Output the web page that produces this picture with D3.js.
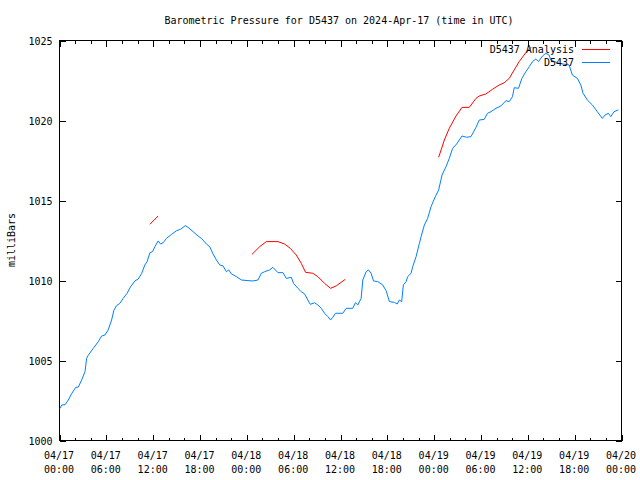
<!DOCTYPE html>
<html>
<head>
<meta charset="utf-8">
<script src="https://cdn.jsdelivr.net/npm/d3@7"></script>
<style>
  html, body { margin: 0; padding: 0; background: #fff; }
  svg text { font-family: "DejaVu Sans Mono", "Liberation Mono", monospace; font-size: 10px; fill: #000; }
</style>
</head>
<body>
<svg id="chart" width="640" height="480"></svg>
<script>
// ---- data (hours since 2024-04-17 00:00 UTC) ----
const stationHours = [0.13,0.35,0.77,1.19,1.62,2.17,2.47,2.90,3.33,3.54,3.75,4.39,5.03,5.46,5.88,6.30,6.74,7.03,7.38,7.80,8.22,8.73,9.17,9.72,10.14,10.58,11.00,11.29,11.64,11.98,12.28,12.70,13.01,13.34,13.77,14.41,15.05,15.56,16.20,16.54,17.18,17.82,18.25,18.89,19.31,19.73,20.17,20.59,21.01,21.45,21.74,22.09,22.73,23.37,24.21,24.85,25.49,25.92,26.35,26.98,27.41,28.05,28.69,29.12,29.76,30.05,30.60,31.04,31.46,31.88,32.19,32.74,33.16,33.60,34.02,34.44,34.79,35.08,35.42,36.36,36.79,37.64,37.98,38.28,38.71,38.92,39.35,39.65,39.99,40.29,40.84,41.47,41.91,42.33,42.97,43.32,43.61,43.90,44.12,44.47,44.67,45.11,45.31,45.75,46.17,46.39,46.81,47.23,47.66,48.21,48.64,49.07,49.58,50.00,50.43,50.94,51.63,52.22,52.78,53.42,53.84,54.48,54.90,55.34,55.98,56.62,57.26,57.68,58.10,58.32,58.87,59.30,59.81,60.24,60.66,61.09,61.43,61.94,62.37,62.79,63.01,64.07,65.35,65.77,66.41,66.85,67.14,67.69,68.33,68.97,69.61,69.95,70.38,70.69,71.11,71.66];
const stationValues = [1001.98,1002.19,1002.2,1002.5,1002.9,1003.3,1003.3,1003.75,1004.27,1005.1,1005.3,1005.73,1006.14,1006.5,1006.56,1006.88,1007.5,1008.1,1008.4,1008.54,1008.85,1009.17,1009.58,1009.94,1010.06,1010.4,1010.94,1011.15,1011.7,1011.77,1012.08,1012.44,1012.25,1012.33,1012.6,1012.85,1013.08,1013.17,1013.4,1013.29,1013.02,1012.75,1012.6,1012.25,1012.08,1011.63,1011.25,1010.94,1010.88,1010.52,1010.63,1010.38,1010.21,1010.0,1009.96,1009.94,1010.0,1010.42,1010.52,1010.63,1010.79,1010.46,1010.46,1010.1,1010.17,1009.79,1009.48,1009.27,1009.13,1008.75,1008.48,1008.58,1008.44,1008.23,1007.92,1007.71,1007.5,1007.67,1007.92,1007.92,1008.23,1008.23,1008.58,1008.44,1008.85,1010.0,1010.52,1010.63,1010.42,1009.94,1009.9,1009.69,1009.33,1008.65,1008.6,1008.5,1008.75,1008.65,1009.69,1009.9,1010.21,1010.42,1010.83,1011.46,1012.29,1012.71,1013.44,1013.85,1014.58,1015.21,1015.63,1016.56,1017.08,1017.6,1018.23,1018.5,1019.0,1018.92,1018.96,1019.54,1020.0,1020.04,1020.42,1020.52,1020.73,1020.88,1021.21,1021.15,1021.46,1022.02,1021.98,1022.6,1023.02,1023.33,1023.65,1023.81,1023.65,1024.0,1024.17,1024.06,1023.75,1023.54,1023.44,1022.81,1022.6,1022.19,1021.67,1021.25,1020.94,1020.52,1020.1,1020.31,1020.42,1020.21,1020.52,1020.63];
// analysis series, null marks a gap between runs
const analysisHours = [11.64,12.70, null, 24.72,25.71,26.56,28.05,28.90,29.63,30.40,31.04,31.59,32.52,33.16,34.02,34.79,35.51,36.67, null, 48.64,49.37,50.00,50.86,51.63,52.56,53.42,53.84,54.70,55.54,56.40,57.04,57.68,58.32,58.96,59.81,60.50];
const analysisValues = [1013.48,1014.0, null, 1011.6,1012.08,1012.4,1012.4,1012.25,1011.98,1011.56,1011.04,1010.48,1010.42,1010.21,1009.79,1009.48,1009.63,1010.04, null, 1017.67,1018.75,1019.48,1020.25,1020.79,1020.79,1021.35,1021.5,1021.63,1021.92,1022.19,1022.33,1022.6,1023.13,1023.65,1024.21,1024.55];
const yTicks = [1000,1005,1010,1015,1020,1025];
const titleText = "Barometric Pressure for D5437 on 2024-Apr-17 (time in UTC)";
const yLabel = "milliBars";
const seriesNames = ["D5437 Analysis", "D5437"];
const seriesColors = ["#ff0000", "#0080ff"];

const t0 = Date.UTC(2024, 3, 17);
const toDate = h => new Date(t0 + h * 3600e3);

const svg = d3.select("#chart");
const L = 59, R = 621, T = 40, B = 440;

const x = d3.scaleUtc().domain([toDate(0), toDate(72)]).range([L, R]);
const y = d3.scaleLinear().domain([1000, 1025]).range([B, T]);

// frame
svg.append("rect").attr("x", L + 0.5).attr("y", T + 0.5)
  .attr("width", R - L).attr("height", B - T)
  .attr("fill", "none").attr("stroke", "#000").attr("stroke-width", 1)
  .attr("shape-rendering", "crispEdges");

const fmtTop = d3.utcFormat("%m/%d"), fmtBot = d3.utcFormat("%H:%M");
const majorX = d3.utcHour.every(6).range(toDate(0), toDate(72.01));
const minorX = d3.utcHour.every(2).range(toDate(0), toDate(72.01));

const xAxisB = svg.append("g").attr("transform", `translate(0.5,${B + 0.5})`)
  .call(d3.axisBottom(x).tickValues(majorX).tickSize(-6).tickFormat(""));
const xAxisBm = svg.append("g").attr("transform", `translate(0.5,${B + 0.5})`)
  .call(d3.axisBottom(x).tickValues(minorX).tickSize(-3).tickFormat(""));
const xAxisT = svg.append("g").attr("transform", `translate(0.5,${T + 0.5})`)
  .call(d3.axisTop(x).tickValues(majorX).tickSize(-6).tickFormat(""));
const xAxisTm = svg.append("g").attr("transform", `translate(0.5,${T + 0.5})`)
  .call(d3.axisTop(x).tickValues(minorX).tickSize(-3).tickFormat(""));
const yAxisL = svg.append("g").attr("transform", `translate(${L + 0.5},0.5)`)
  .call(d3.axisLeft(y).tickValues(yTicks).tickSize(-6).tickFormat(d3.format("d")));
const yAxisR = svg.append("g").attr("transform", `translate(${R + 0.5},0.5)`)
  .call(d3.axisRight(y).tickValues(yTicks).tickSize(-6).tickFormat(""));

[xAxisB, xAxisBm, xAxisT, xAxisTm, yAxisL, yAxisR].forEach(g => {
  g.select(".domain").remove();
  g.selectAll("line").attr("stroke", "#000").attr("shape-rendering", "crispEdges");
});
yAxisL.selectAll("text").attr("x", -7).attr("dy", "0.35em")
  .style("font-family", '"DejaVu Sans Mono", monospace').style("font-size", "10px").attr("fill", "#000");

// x labels
const xl = svg.append("g");
majorX.forEach(d => {
  xl.append("text").attr("x", x(d)).attr("y", 459).attr("text-anchor", "middle").text(fmtTop(d));
  xl.append("text").attr("x", x(d)).attr("y", 473).attr("text-anchor", "middle").text(fmtBot(d));
});

// title and y label
svg.append("text").attr("x", 339).attr("y", 24).attr("text-anchor", "middle").text(titleText);
svg.append("text").attr("transform", "translate(15,240) rotate(-90)").attr("text-anchor", "middle").text(yLabel);

// lines
const stationData = stationHours.map((h, i) => ({ t: toDate(h), v: stationValues[i] }));
const analysisData = analysisHours.map((h, i) => ({ t: h == null ? null : toDate(h), v: analysisValues[i] }));
const line = d3.line().defined(d => d.t != null && d.v != null).x(d => x(d.t)).y(d => y(d.v));

svg.append("path").datum(stationData).attr("d", line)
  .attr("fill", "none").attr("stroke", seriesColors[1]).attr("stroke-width", 1);
svg.append("path").datum(analysisData).attr("d", line)
  .attr("fill", "none").attr("stroke", seriesColors[0]).attr("stroke-width", 1);

// legend
const lg = svg.append("g");
seriesNames.forEach((n, i) => {
  const yy = 49 + i * 13;
  lg.append("text").attr("x", 574).attr("y", yy + 3.5).attr("text-anchor", "end").text(n);
  lg.append("line").attr("x1", 582).attr("x2", 610).attr("y1", yy + 0.5).attr("y2", yy + 0.5)
    .attr("stroke", seriesColors[i]).attr("stroke-width", 1).attr("shape-rendering", "crispEdges");
});
</script>
</body>
</html>
